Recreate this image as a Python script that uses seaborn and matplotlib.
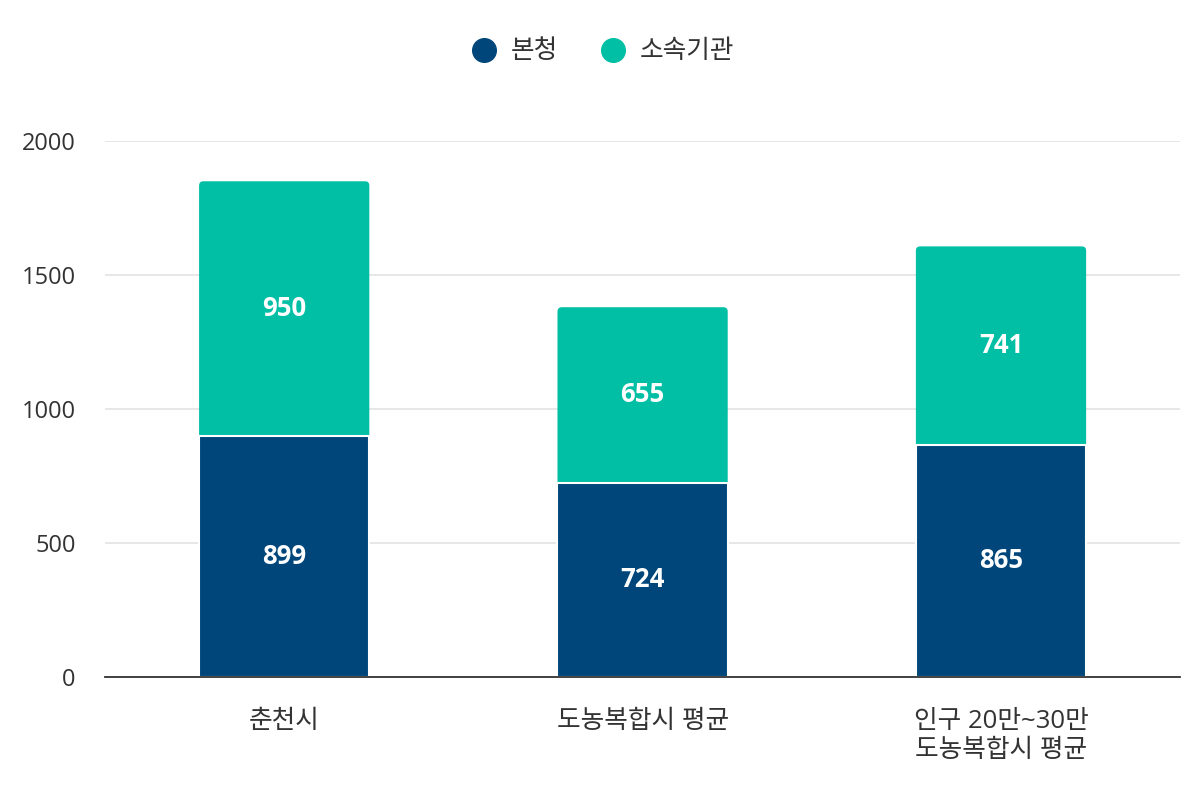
import pandas as pd
import matplotlib.pyplot as plt
import seaborn as sns
from matplotlib.lines import Line2D
from matplotlib.patches import FancyBboxPatch

# 데이터
categories = ['춘천시', '도농복합시 평균', '인구 20만~30만\n도농복합시 평균']
bonchung = [899, 724, 865]
sosok = [950, 655, 741]
series_names = ['본청', '소속기관']
colors = ['#00467A', '#00BFA5']

df = pd.DataFrame({'구분': categories, '본청': bonchung, '소속기관': sosok})
df['합계'] = df['본청'] + df['소속기관']

sns.set_theme(style='white')
plt.rcParams['font.family'] = ['Open Sans', 'Noto Sans CJK KR', 'DejaVu Sans']

fig = plt.figure(figsize=(12, 8), dpi=100)
ax_rect = [0.0875, 0.154, 0.896, 0.67]
ax = fig.add_axes(ax_rect)

# 합계 막대(소속기관 색) 위에 본청 막대를 덮어 누적 막대 생성
sns.barplot(data=df, x='구분', y='합계', color=colors[1], width=0.475,
            saturation=1, ax=ax, zorder=3)
n_top = len(ax.patches)
sns.barplot(data=df, x='구분', y='본청', color=colors[0], width=0.475,
            saturation=1, ax=ax, zorder=4, edgecolor='white', linewidth=1.5)

ax.set_ylim(0, 2000)
ax.set_xlim(-0.5, 2.5)

# 위쪽 막대 모서리 둥글게
px_per_x = 1200 * ax_rect[2] / 3
px_per_y = 800 * ax_rect[3] / 2000
aspect = px_per_x / px_per_y
for p in list(ax.patches[:n_top]):
    x, y, w, h = p.get_x(), p.get_y(), p.get_width(), p.get_height()
    p.remove()
    ax.add_patch(FancyBboxPatch((x, y), w, h,
                                boxstyle='round,pad=0,rounding_size=0.012',
                                mutation_aspect=aspect, facecolor=colors[1],
                                edgecolor='none', zorder=3))

# 값 라벨
for i in range(len(categories)):
    ax.text(i, bonchung[i] / 2, f'{bonchung[i]}', ha='center', va='center',
            color='white', fontsize=18.5, fontweight='bold', zorder=5)
    ax.text(i, bonchung[i] + sosok[i] / 2, f'{sosok[i]}', ha='center', va='center',
            color='white', fontsize=18.5, fontweight='bold', zorder=5)

ax.set_yticks([0, 500, 1000, 1500, 2000])
ax.yaxis.grid(True, color='#e3e3e3', linewidth=1.2, zorder=0)
ax.set_axisbelow(True)
ax.set_xlabel('')
ax.set_ylabel('')
ax.tick_params(axis='both', length=0, colors='#333333')
ax.tick_params(axis='x', pad=23, labelsize=18.5)
ax.tick_params(axis='y', pad=21, labelsize=17)
for s in ['top', 'right', 'left']:
    ax.spines[s].set_visible(False)
ax.spines['bottom'].set_color('#333333')
ax.spines['bottom'].set_linewidth(1.3)
ax.spines['bottom'].set_zorder(6)

# 범례
handles = [Line2D([0], [0], marker='o', linestyle='', markersize=17,
                  markerfacecolor=c, markeredgecolor=c) for c in colors]
fig.legend(handles, series_names, loc='center', bbox_to_anchor=(0.497, 0.935),
           ncol=2, frameon=False, fontsize=18.5, handletextpad=0.05,
           columnspacing=1.12, labelcolor='#333333')

plt.savefig('out.png', dpi=100)
